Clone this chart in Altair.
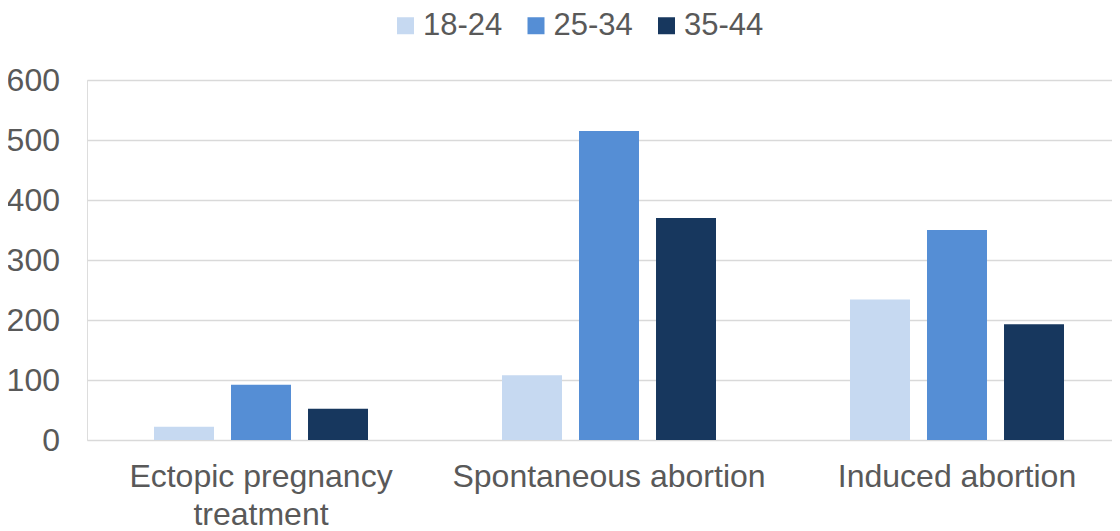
import altair as alt
import pandas as pd

categories = ["Ectopic pregnancy treatment", "Spontaneous abortion", "Induced abortion"]
age_groups = ["18-24", "25-34", "35-44"]
values_18_24 = [22, 108, 234]
values_25_34 = [92, 515, 350]
values_35_44 = [52, 370, 193]
colors = ["#C6D9F1", "#558ED5", "#17375E"]

rows = []
for series, vals in zip(age_groups, [values_18_24, values_25_34, values_35_44]):
    for cat, v in zip(categories, vals):
        rows.append({"category": cat, "age": series, "value": v})
df = pd.DataFrame(rows)

FONT = "Liberation Sans"
TXT = "#595959"

chart = alt.Chart(df).mark_bar().encode(
    x=alt.X("category:N", sort=categories, title=None,
            scale=alt.Scale(paddingInner=0, paddingOuter=0),
            axis=alt.Axis(labelAngle=0, domain=False, ticks=False, tickSize=0,
                          labelPadding=21.5, labelFontSize=32, labelFont=FONT,
                          labelColor=TXT, labelLineHeight=38, labelLimit=0,
                          labelExpr="datum.label == 'Ectopic pregnancy treatment' ? ['Ectopic pregnancy', 'treatment'] : datum.label")),
    xOffset=alt.XOffset("age:N", sort=age_groups,
                        scale=alt.Scale(paddingInner=0.221, paddingOuter=0.87)),
    y=alt.Y("value:Q", title=None,
            scale=alt.Scale(domain=[0, 600], nice=False),
            axis=alt.Axis(values=[0, 100, 200, 300, 400, 500, 600], domain=False,
                          ticks=False, tickSize=0, labelPadding=27.5, labelFontSize=32,
                          labelFont=FONT, labelColor=TXT, gridColor="#D9D9D9",
                          gridWidth=1.5)),
    color=alt.Color("age:N", sort=age_groups, title=None,
                    scale=alt.Scale(domain=age_groups, range=colors),
                    legend=alt.Legend(orient="none", direction="horizontal",
                                      legendX=303, legendY=-70, padding=0,
                                      symbolType="square", symbolSize=289,
                                      symbolStrokeWidth=0, symbolOpacity=1,
                                      labelFontSize=31, labelFont=FONT,
                                      labelColor=TXT, labelOffset=2,
                                      columnPadding=17.5)),
).properties(
    width=1044, height=360,
    autosize=alt.AutoSizeParams(type="none"),
    padding={"left": 79, "top": 72, "right": -19, "bottom": 91},
).configure_view(stroke=None).configure(background="white")

chart.save("out.html", embed_options={"renderer": "svg", "actions": False})
